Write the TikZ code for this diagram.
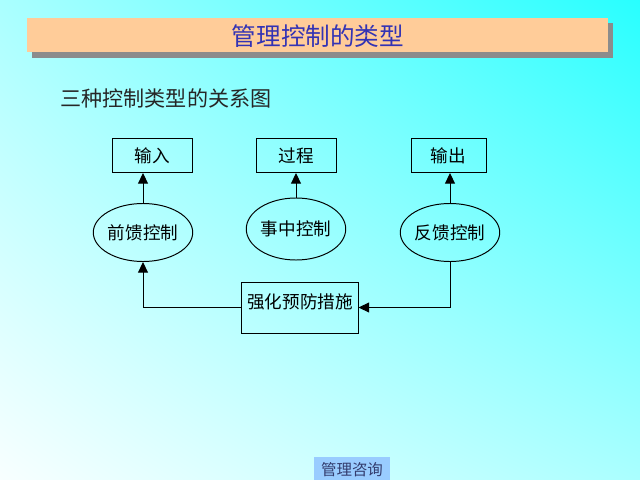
\documentclass[tikz,border=0pt]{standalone}
\usepackage{fontspec}
\setmainfont{Noto Sans CJK SC}
\usetikzlibrary{shapes.geometric,arrows.meta,positioning,shadings}

\definecolor{titlebar}{RGB}{255,204,153}
\definecolor{titleink}{RGB}{51,51,180}
\definecolor{footbox}{RGB}{153,204,255}
\definecolor{footink}{RGB}{51,60,110}
\definecolor{bgcyan}{RGB}{40,255,255}
\definecolor{bgmid}{RGB}{170,255,255}
\definecolor{bgpale}{RGB}{248,255,255}

\tikzset{
  ctrlbox/.style={draw, line width=0.7pt, inner sep=0pt, minimum width=1.975cm,
    minimum height=0.85cm, font=\fontsize{12.5}{14}\selectfont},
  ctrlell/.style={ellipse, draw, line width=0.7pt, inner sep=0pt, minimum width=2.25cm,
    minimum height=1.45cm, font=\fontsize{12.5}{14}\selectfont},
  link/.style={line width=0.7pt, -{Triangle[length=7.5pt,width=7pt]}}
}

\begin{document}
\begin{tikzpicture}[x=0.025cm, y=-0.025cm]

% background, pixel grid 640 x 480
\shade[lower left=bgpale, upper right=bgcyan, upper left=bgmid, lower right=bgmid]
  (0,0) rectangle (640,480);
\useasboundingbox (0,0) rectangle (640,480);

% title bar
\fill[gray!90] (32,23) rectangle (613,58);
\fill[titlebar] (27,18) rectangle (608,52);
\node[text=titleink, font=\fontsize{17.5}{20}\selectfont] (title) at (318,36) {管理控制的类型};

\node[text=black!85, font=\fontsize{15}{18}\selectfont] (sub) at (166,98) {三种控制类型的关系图};

% top row
\node[ctrlbox] (in) at (152.5,155.5) {输入};
\node[ctrlbox] (proc) at (296.5,155.5) {过程};
\node[ctrlbox, minimum width=1.875cm] (out) at (448.5,155.5) {输出};

% control types
\node[ctrlell] (ff) at (143,232.5) {前馈控制};
\node[ctrlell, minimum width=2.275cm, minimum height=1.55cm] (ip) at (296,229) {事中控制};
\node[ctrlell] (fb) at (450,232.5) {反馈控制};

% prevention
\node[ctrlbox, minimum width=2.9cm, minimum height=1.275cm, text depth=0.33cm] (pre) at (300,307.5) {强化预防措施};

\draw[link] (ff.north) -- (ff.north |- in.south);
\draw[link] (ip.north) -- (ip.north |- proc.south);
\draw[link] (fb.north) -- (fb.north |- out.south);
\draw[link] (pre.west) -| (ff.south);
\draw[link] (fb.south) |- (pre.east);

% footer
\node[fill=footbox, text=footink, inner sep=0pt, minimum width=1.9cm, minimum height=0.65cm,
  font=\fontsize{11}{13}\selectfont] (foot) at (352,470) {管理咨询};

\end{tikzpicture}
\end{document}
